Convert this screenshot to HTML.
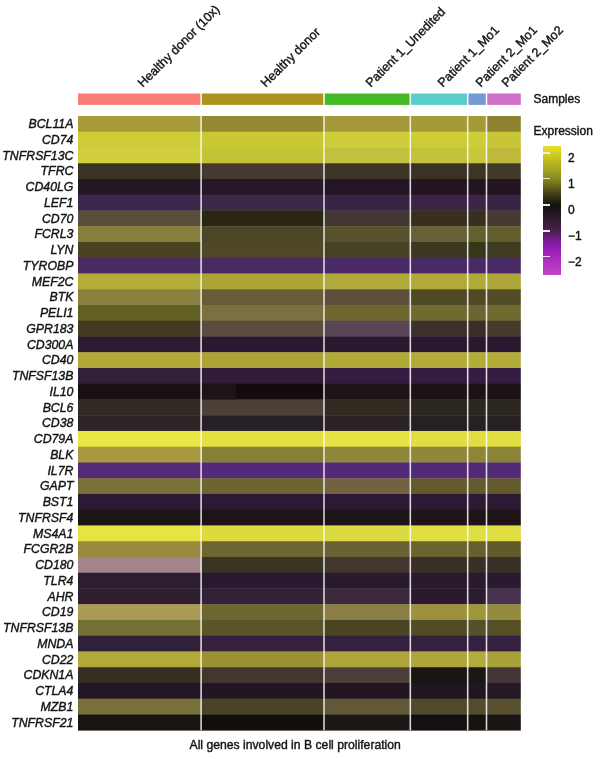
<!DOCTYPE html>
<html><head><meta charset="utf-8"><style>
html,body{margin:0;padding:0;background:#fff;}
body{width:600px;height:759px;position:relative;overflow:hidden;font-family:"Liberation Sans",Arial,sans-serif;color:#141414;-webkit-text-stroke:0.4px #141414;}
svg{position:absolute;left:0;top:0;}
.gl{position:absolute;right:526.6px;font-style:italic;font-size:12.3px;line-height:14px;height:14px;white-space:nowrap;text-align:right;}
.cl{position:absolute;top:77.7px;font-size:12.5px;line-height:14px;height:14px;white-space:nowrap;transform-origin:0 50%;transform:rotate(-45deg);}
.lt{position:absolute;font-size:12px;line-height:14px;white-space:nowrap;}
#cb{position:absolute;left:543.1px;top:145.6px;width:17.8px;height:129px;background:linear-gradient(to bottom,#e6e22a 0.0%,#d4d022 5.4%,#b0ae20 15.5%,#8a8820 25.4%,#4a4818 35.7%,#141210 45.7%,#2a1a2c 55.8%,#4a2050 65.9%,#8a18a8 76.0%,#a828c0 85.8%,#c048c0 100.0%);}
.tk{position:absolute;left:543.1px;width:7px;height:1.8px;background:#ececec;}
.tl{position:absolute;left:568px;font-size:12px;line-height:14px;}
</style></head><body>
<svg width="600" height="759" viewBox="0 0 600 759">
<rect x="78.00" y="116.00" width="123.10" height="16.15" fill="#a89c3a"/><rect x="201.10" y="116.00" width="122.90" height="16.15" fill="#948a34"/><rect x="324.00" y="116.00" width="86.30" height="16.15" fill="#a4983a"/><rect x="410.30" y="116.00" width="57.40" height="16.15" fill="#a49a36"/><rect x="467.70" y="116.00" width="18.80" height="16.15" fill="#a49a36"/><rect x="486.50" y="116.00" width="34.30" height="16.15" fill="#8c8230"/><rect x="78.00" y="131.75" width="123.10" height="16.15" fill="#cecc36"/><rect x="201.10" y="131.75" width="122.90" height="16.15" fill="#cac834"/><rect x="324.00" y="131.75" width="86.30" height="16.15" fill="#cecc38"/><rect x="410.30" y="131.75" width="57.40" height="16.15" fill="#cecc38"/><rect x="467.70" y="131.75" width="18.80" height="16.15" fill="#cecc38"/><rect x="486.50" y="131.75" width="34.30" height="16.15" fill="#c8c636"/><rect x="78.00" y="147.50" width="123.10" height="16.15" fill="#d0ce3e"/><rect x="201.10" y="147.50" width="122.90" height="16.15" fill="#c4c236"/><rect x="324.00" y="147.50" width="86.30" height="16.15" fill="#c2c03c"/><rect x="410.30" y="147.50" width="57.40" height="16.15" fill="#c4c23a"/><rect x="467.70" y="147.50" width="18.80" height="16.15" fill="#c8c63a"/><rect x="486.50" y="147.50" width="34.30" height="16.15" fill="#c0b83a"/><rect x="78.00" y="163.25" width="123.10" height="16.15" fill="#3a3222"/><rect x="201.10" y="163.25" width="122.90" height="16.15" fill="#463a30"/><rect x="324.00" y="163.25" width="86.30" height="16.15" fill="#3e3428"/><rect x="410.30" y="163.25" width="57.40" height="16.15" fill="#3a3224"/><rect x="467.70" y="163.25" width="18.80" height="16.15" fill="#3e3426"/><rect x="486.50" y="163.25" width="34.30" height="16.15" fill="#423a28"/><rect x="78.00" y="178.99" width="123.10" height="16.15" fill="#241824"/><rect x="201.10" y="178.99" width="122.90" height="16.15" fill="#261828"/><rect x="324.00" y="178.99" width="86.30" height="16.15" fill="#241624"/><rect x="410.30" y="178.99" width="57.40" height="16.15" fill="#221420"/><rect x="467.70" y="178.99" width="18.80" height="16.15" fill="#221420"/><rect x="486.50" y="178.99" width="34.30" height="16.15" fill="#221420"/><rect x="78.00" y="194.74" width="123.10" height="16.15" fill="#3c264c"/><rect x="201.10" y="194.74" width="122.90" height="16.15" fill="#3c2848"/><rect x="324.00" y="194.74" width="86.30" height="16.15" fill="#3a2446"/><rect x="410.30" y="194.74" width="57.40" height="16.15" fill="#3c2446"/><rect x="467.70" y="194.74" width="18.80" height="16.15" fill="#3e2446"/><rect x="486.50" y="194.74" width="34.30" height="16.15" fill="#3a2446"/><rect x="78.00" y="210.49" width="123.10" height="16.15" fill="#5a4e3c"/><rect x="201.10" y="210.49" width="122.90" height="16.15" fill="#2a2614"/><rect x="324.00" y="210.49" width="86.30" height="16.15" fill="#423634"/><rect x="410.30" y="210.49" width="57.40" height="16.15" fill="#38301f"/><rect x="467.70" y="210.49" width="18.80" height="16.15" fill="#38301f"/><rect x="486.50" y="210.49" width="34.30" height="16.15" fill="#463a32"/><rect x="78.00" y="226.24" width="123.10" height="16.15" fill="#867e3a"/><rect x="201.10" y="226.24" width="122.90" height="16.15" fill="#4c4628"/><rect x="324.00" y="226.24" width="86.30" height="16.15" fill="#58522c"/><rect x="410.30" y="226.24" width="57.40" height="16.15" fill="#666038"/><rect x="467.70" y="226.24" width="18.80" height="16.15" fill="#64602e"/><rect x="486.50" y="226.24" width="34.30" height="16.15" fill="#625e2e"/><rect x="78.00" y="241.99" width="123.10" height="16.15" fill="#484422"/><rect x="201.10" y="241.99" width="122.90" height="16.15" fill="#4e4826"/><rect x="324.00" y="241.99" width="86.30" height="16.15" fill="#464224"/><rect x="410.30" y="241.99" width="57.40" height="16.15" fill="#3a381e"/><rect x="467.70" y="241.99" width="18.80" height="16.15" fill="#383618"/><rect x="486.50" y="241.99" width="34.30" height="16.15" fill="#3e3c20"/><rect x="78.00" y="257.74" width="123.10" height="16.15" fill="#4a2a62"/><rect x="201.10" y="257.74" width="122.90" height="16.15" fill="#482a60"/><rect x="324.00" y="257.74" width="86.30" height="16.15" fill="#4a2a66"/><rect x="410.30" y="257.74" width="57.40" height="16.15" fill="#4a2a64"/><rect x="467.70" y="257.74" width="18.80" height="16.15" fill="#4a2a64"/><rect x="486.50" y="257.74" width="34.30" height="16.15" fill="#4a2a64"/><rect x="78.00" y="273.49" width="123.10" height="16.15" fill="#b4ac38"/><rect x="201.10" y="273.49" width="122.90" height="16.15" fill="#aca436"/><rect x="324.00" y="273.49" width="86.30" height="16.15" fill="#b2aa38"/><rect x="410.30" y="273.49" width="57.40" height="16.15" fill="#b2aa38"/><rect x="467.70" y="273.49" width="18.80" height="16.15" fill="#b2aa38"/><rect x="486.50" y="273.49" width="34.30" height="16.15" fill="#aea638"/><rect x="78.00" y="289.24" width="123.10" height="16.15" fill="#8c8040"/><rect x="201.10" y="289.24" width="122.90" height="16.15" fill="#685c36"/><rect x="324.00" y="289.24" width="86.30" height="16.15" fill="#5e503e"/><rect x="410.30" y="289.24" width="57.40" height="16.15" fill="#504a24"/><rect x="467.70" y="289.24" width="18.80" height="16.15" fill="#504a24"/><rect x="486.50" y="289.24" width="34.30" height="16.15" fill="#524c26"/><rect x="78.00" y="304.98" width="123.10" height="16.15" fill="#626024"/><rect x="201.10" y="304.98" width="122.90" height="16.15" fill="#7c7040"/><rect x="324.00" y="304.98" width="86.30" height="16.15" fill="#6e6830"/><rect x="410.30" y="304.98" width="57.40" height="16.15" fill="#6e6a30"/><rect x="467.70" y="304.98" width="18.80" height="16.15" fill="#6a6630"/><rect x="486.50" y="304.98" width="34.30" height="16.15" fill="#706a30"/><rect x="78.00" y="320.73" width="123.10" height="16.15" fill="#443a24"/><rect x="201.10" y="320.73" width="122.90" height="16.15" fill="#5c4c40"/><rect x="324.00" y="320.73" width="86.30" height="16.15" fill="#584656"/><rect x="410.30" y="320.73" width="57.40" height="16.15" fill="#3c302a"/><rect x="467.70" y="320.73" width="18.80" height="16.15" fill="#3a2e28"/><rect x="486.50" y="320.73" width="34.30" height="16.15" fill="#463a2c"/><rect x="78.00" y="336.48" width="123.10" height="16.15" fill="#2c1a32"/><rect x="201.10" y="336.48" width="122.90" height="16.15" fill="#2a1830"/><rect x="324.00" y="336.48" width="86.30" height="16.15" fill="#2a1830"/><rect x="410.30" y="336.48" width="57.40" height="16.15" fill="#2a1830"/><rect x="467.70" y="336.48" width="18.80" height="16.15" fill="#2a1830"/><rect x="486.50" y="336.48" width="34.30" height="16.15" fill="#2a1830"/><rect x="78.00" y="352.23" width="123.10" height="16.15" fill="#b2a838"/><rect x="201.10" y="352.23" width="122.90" height="16.15" fill="#aca236"/><rect x="324.00" y="352.23" width="86.30" height="16.15" fill="#b2aa38"/><rect x="410.30" y="352.23" width="57.40" height="16.15" fill="#b4ac38"/><rect x="467.70" y="352.23" width="18.80" height="16.15" fill="#b4ac38"/><rect x="486.50" y="352.23" width="34.30" height="16.15" fill="#b4ac38"/><rect x="78.00" y="367.98" width="123.10" height="16.15" fill="#32203a"/><rect x="201.10" y="367.98" width="122.90" height="16.15" fill="#301c38"/><rect x="324.00" y="367.98" width="86.30" height="16.15" fill="#341c40"/><rect x="410.30" y="367.98" width="57.40" height="16.15" fill="#341c40"/><rect x="467.70" y="367.98" width="18.80" height="16.15" fill="#341c40"/><rect x="486.50" y="367.98" width="34.30" height="16.15" fill="#341c40"/><rect x="78.00" y="383.73" width="123.10" height="16.15" fill="#181014"/><rect x="201.10" y="383.73" width="122.90" height="16.15" fill="#140c0c"/><rect x="324.00" y="383.73" width="86.30" height="16.15" fill="#1c1418"/><rect x="410.30" y="383.73" width="57.40" height="16.15" fill="#1a1214"/><rect x="467.70" y="383.73" width="18.80" height="16.15" fill="#1a1214"/><rect x="486.50" y="383.73" width="34.30" height="16.15" fill="#1a1214"/><rect x="78.00" y="399.48" width="123.10" height="16.15" fill="#322a22"/><rect x="201.10" y="399.48" width="122.90" height="16.15" fill="#4c4038"/><rect x="324.00" y="399.48" width="86.30" height="16.15" fill="#302a20"/><rect x="410.30" y="399.48" width="57.40" height="16.15" fill="#2c2620"/><rect x="467.70" y="399.48" width="18.80" height="16.15" fill="#2c2620"/><rect x="486.50" y="399.48" width="34.30" height="16.15" fill="#2c2620"/><rect x="78.00" y="415.23" width="123.10" height="16.15" fill="#2e2428"/><rect x="201.10" y="415.23" width="122.90" height="16.15" fill="#282028"/><rect x="324.00" y="415.23" width="86.30" height="16.15" fill="#2a2226"/><rect x="410.30" y="415.23" width="57.40" height="16.15" fill="#262022"/><rect x="467.70" y="415.23" width="18.80" height="16.15" fill="#262022"/><rect x="486.50" y="415.23" width="34.30" height="16.15" fill="#262022"/><rect x="78.00" y="430.97" width="123.10" height="16.15" fill="#e8e644"/><rect x="201.10" y="430.97" width="122.90" height="16.15" fill="#e2e042"/><rect x="324.00" y="430.97" width="86.30" height="16.15" fill="#e4e244"/><rect x="410.30" y="430.97" width="57.40" height="16.15" fill="#e0de42"/><rect x="467.70" y="430.97" width="18.80" height="16.15" fill="#e0de42"/><rect x="486.50" y="430.97" width="34.30" height="16.15" fill="#e0de42"/><rect x="78.00" y="446.72" width="123.10" height="16.15" fill="#a89a3c"/><rect x="201.10" y="446.72" width="122.90" height="16.15" fill="#868036"/><rect x="324.00" y="446.72" width="86.30" height="16.15" fill="#8e8638"/><rect x="410.30" y="446.72" width="57.40" height="16.15" fill="#908838"/><rect x="467.70" y="446.72" width="18.80" height="16.15" fill="#8e8636"/><rect x="486.50" y="446.72" width="34.30" height="16.15" fill="#8a8436"/><rect x="78.00" y="462.47" width="123.10" height="16.15" fill="#552a78"/><rect x="201.10" y="462.47" width="122.90" height="16.15" fill="#542a78"/><rect x="324.00" y="462.47" width="86.30" height="16.15" fill="#532a78"/><rect x="410.30" y="462.47" width="57.40" height="16.15" fill="#532a78"/><rect x="467.70" y="462.47" width="18.80" height="16.15" fill="#532a78"/><rect x="486.50" y="462.47" width="34.30" height="16.15" fill="#532a78"/><rect x="78.00" y="478.22" width="123.10" height="16.15" fill="#787036"/><rect x="201.10" y="478.22" width="122.90" height="16.15" fill="#6c6432"/><rect x="324.00" y="478.22" width="86.30" height="16.15" fill="#726240"/><rect x="410.30" y="478.22" width="57.40" height="16.15" fill="#625a2c"/><rect x="467.70" y="478.22" width="18.80" height="16.15" fill="#625a2c"/><rect x="486.50" y="478.22" width="34.30" height="16.15" fill="#625a2c"/><rect x="78.00" y="493.97" width="123.10" height="16.15" fill="#2c1a34"/><rect x="201.10" y="493.97" width="122.90" height="16.15" fill="#2c1a34"/><rect x="324.00" y="493.97" width="86.30" height="16.15" fill="#2c1a34"/><rect x="410.30" y="493.97" width="57.40" height="16.15" fill="#2c1a34"/><rect x="467.70" y="493.97" width="18.80" height="16.15" fill="#2c1a34"/><rect x="486.50" y="493.97" width="34.30" height="16.15" fill="#2c1a34"/><rect x="78.00" y="509.72" width="123.10" height="16.15" fill="#1c1416"/><rect x="201.10" y="509.72" width="122.90" height="16.15" fill="#1e1418"/><rect x="324.00" y="509.72" width="86.30" height="16.15" fill="#1c1418"/><rect x="410.30" y="509.72" width="57.40" height="16.15" fill="#1e1418"/><rect x="467.70" y="509.72" width="18.80" height="16.15" fill="#1e1418"/><rect x="486.50" y="509.72" width="34.30" height="16.15" fill="#1e1418"/><rect x="78.00" y="525.47" width="123.10" height="16.15" fill="#e6e442"/><rect x="201.10" y="525.47" width="122.90" height="16.15" fill="#dcda40"/><rect x="324.00" y="525.47" width="86.30" height="16.15" fill="#dcda40"/><rect x="410.30" y="525.47" width="57.40" height="16.15" fill="#e0de42"/><rect x="467.70" y="525.47" width="18.80" height="16.15" fill="#e0de42"/><rect x="486.50" y="525.47" width="34.30" height="16.15" fill="#e0de42"/><rect x="78.00" y="541.22" width="123.10" height="16.15" fill="#988a3e"/><rect x="201.10" y="541.22" width="122.90" height="16.15" fill="#6e6630"/><rect x="324.00" y="541.22" width="86.30" height="16.15" fill="#6a6234"/><rect x="410.30" y="541.22" width="57.40" height="16.15" fill="#6a642e"/><rect x="467.70" y="541.22" width="18.80" height="16.15" fill="#66602c"/><rect x="486.50" y="541.22" width="34.30" height="16.15" fill="#605a2a"/><rect x="78.00" y="556.96" width="123.10" height="16.15" fill="#a6848c"/><rect x="201.10" y="556.96" width="122.90" height="16.15" fill="#3a3422"/><rect x="324.00" y="556.96" width="86.30" height="16.15" fill="#42362f"/><rect x="410.30" y="556.96" width="57.40" height="16.15" fill="#382f26"/><rect x="467.70" y="556.96" width="18.80" height="16.15" fill="#382f26"/><rect x="486.50" y="556.96" width="34.30" height="16.15" fill="#382f26"/><rect x="78.00" y="572.71" width="123.10" height="16.15" fill="#2c1e30"/><rect x="201.10" y="572.71" width="122.90" height="16.15" fill="#2a1a30"/><rect x="324.00" y="572.71" width="86.30" height="16.15" fill="#2a1a30"/><rect x="410.30" y="572.71" width="57.40" height="16.15" fill="#2a1a30"/><rect x="467.70" y="572.71" width="18.80" height="16.15" fill="#2a1a30"/><rect x="486.50" y="572.71" width="34.30" height="16.15" fill="#2a1a30"/><rect x="78.00" y="588.46" width="123.10" height="16.15" fill="#2e1e30"/><rect x="201.10" y="588.46" width="122.90" height="16.15" fill="#322238"/><rect x="324.00" y="588.46" width="86.30" height="16.15" fill="#3a2a3c"/><rect x="410.30" y="588.46" width="57.40" height="16.15" fill="#2a1a2c"/><rect x="467.70" y="588.46" width="18.80" height="16.15" fill="#2a1c2e"/><rect x="486.50" y="588.46" width="34.30" height="16.15" fill="#483050"/><rect x="78.00" y="604.21" width="123.10" height="16.15" fill="#aa9a56"/><rect x="201.10" y="604.21" width="122.90" height="16.15" fill="#6e6630"/><rect x="324.00" y="604.21" width="86.30" height="16.15" fill="#8a7e44"/><rect x="410.30" y="604.21" width="57.40" height="16.15" fill="#9c923c"/><rect x="467.70" y="604.21" width="18.80" height="16.15" fill="#a09838"/><rect x="486.50" y="604.21" width="34.30" height="16.15" fill="#948a3e"/><rect x="78.00" y="619.96" width="123.10" height="16.15" fill="#747034"/><rect x="201.10" y="619.96" width="122.90" height="16.15" fill="#5a5429"/><rect x="324.00" y="619.96" width="86.30" height="16.15" fill="#4a4624"/><rect x="410.30" y="619.96" width="57.40" height="16.15" fill="#504c24"/><rect x="467.70" y="619.96" width="18.80" height="16.15" fill="#54502a"/><rect x="486.50" y="619.96" width="34.30" height="16.15" fill="#545026"/><rect x="78.00" y="635.71" width="123.10" height="16.15" fill="#302038"/><rect x="201.10" y="635.71" width="122.90" height="16.15" fill="#36203e"/><rect x="324.00" y="635.71" width="86.30" height="16.15" fill="#362040"/><rect x="410.30" y="635.71" width="57.40" height="16.15" fill="#362040"/><rect x="467.70" y="635.71" width="18.80" height="16.15" fill="#362040"/><rect x="486.50" y="635.71" width="34.30" height="16.15" fill="#362040"/><rect x="78.00" y="651.46" width="123.10" height="16.15" fill="#b2aa38"/><rect x="201.10" y="651.46" width="122.90" height="16.15" fill="#9a9034"/><rect x="324.00" y="651.46" width="86.30" height="16.15" fill="#aea63a"/><rect x="410.30" y="651.46" width="57.40" height="16.15" fill="#aea63a"/><rect x="467.70" y="651.46" width="18.80" height="16.15" fill="#b4ac3a"/><rect x="486.50" y="651.46" width="34.30" height="16.15" fill="#a8a038"/><rect x="78.00" y="667.21" width="123.10" height="16.15" fill="#362e1e"/><rect x="201.10" y="667.21" width="122.90" height="16.15" fill="#42362f"/><rect x="324.00" y="667.21" width="86.30" height="16.15" fill="#4e3e3a"/><rect x="410.30" y="667.21" width="57.40" height="16.15" fill="#1a1412"/><rect x="467.70" y="667.21" width="18.80" height="16.15" fill="#1c1614"/><rect x="486.50" y="667.21" width="34.30" height="16.15" fill="#443636"/><rect x="78.00" y="682.95" width="123.10" height="16.15" fill="#241826"/><rect x="201.10" y="682.95" width="122.90" height="16.15" fill="#221624"/><rect x="324.00" y="682.95" width="86.30" height="16.15" fill="#221624"/><rect x="410.30" y="682.95" width="57.40" height="16.15" fill="#201620"/><rect x="467.70" y="682.95" width="18.80" height="16.15" fill="#201620"/><rect x="486.50" y="682.95" width="34.30" height="16.15" fill="#241a26"/><rect x="78.00" y="698.70" width="123.10" height="16.15" fill="#787038"/><rect x="201.10" y="698.70" width="122.90" height="16.15" fill="#4a4424"/><rect x="324.00" y="698.70" width="86.30" height="16.15" fill="#625838"/><rect x="410.30" y="698.70" width="57.40" height="16.15" fill="#504a2a"/><rect x="467.70" y="698.70" width="18.80" height="16.15" fill="#524c2c"/><rect x="486.50" y="698.70" width="34.30" height="16.15" fill="#58502e"/><rect x="78.00" y="714.45" width="123.10" height="16.15" fill="#181410"/><rect x="201.10" y="714.45" width="122.90" height="16.15" fill="#120e0c"/><rect x="324.00" y="714.45" width="86.30" height="16.15" fill="#1c1614"/><rect x="410.30" y="714.45" width="57.40" height="16.15" fill="#141010"/><rect x="467.70" y="714.45" width="18.80" height="16.15" fill="#161210"/><rect x="486.50" y="714.45" width="34.30" height="16.15" fill="#1a1412"/><rect x="202.00" y="383.73" width="34.00" height="15.75" fill="#1e1418"/><rect x="200.30" y="116" width="1.6" height="614.2" fill="#ffffff" fill-opacity="0.8"/><rect x="323.20" y="116" width="1.6" height="614.2" fill="#ffffff" fill-opacity="0.8"/><rect x="409.50" y="116" width="1.6" height="614.2" fill="#ffffff" fill-opacity="0.8"/><rect x="466.90" y="116" width="1.6" height="614.2" fill="#ffffff" fill-opacity="0.8"/><rect x="485.70" y="116" width="1.6" height="614.2" fill="#ffffff" fill-opacity="0.8"/><rect x="78.00" y="93.5" width="122.35" height="11.4" fill="#fc7c76"/><rect x="201.85" y="93.5" width="121.40" height="11.4" fill="#aa941e"/><rect x="324.75" y="93.5" width="84.80" height="11.4" fill="#44ba24"/><rect x="411.05" y="93.5" width="55.90" height="11.4" fill="#5acccc"/><rect x="468.45" y="93.5" width="17.30" height="11.4" fill="#749ad4"/><rect x="487.25" y="93.5" width="33.55" height="11.4" fill="#d070c8"/>
</svg>
<div class="gl" style="top:117.17px">BCL11A</div><div class="gl" style="top:132.92px">CD74</div><div class="gl" style="top:148.67px">TNFRSF13C</div><div class="gl" style="top:164.42px">TFRC</div><div class="gl" style="top:180.17px">CD40LG</div><div class="gl" style="top:195.92px">LEF1</div><div class="gl" style="top:211.67px">CD70</div><div class="gl" style="top:227.42px">FCRL3</div><div class="gl" style="top:243.16px">LYN</div><div class="gl" style="top:258.91px">TYROBP</div><div class="gl" style="top:274.66px">MEF2C</div><div class="gl" style="top:290.41px">BTK</div><div class="gl" style="top:306.16px">PELI1</div><div class="gl" style="top:321.91px">GPR183</div><div class="gl" style="top:337.66px">CD300A</div><div class="gl" style="top:353.41px">CD40</div><div class="gl" style="top:369.15px">TNFSF13B</div><div class="gl" style="top:384.90px">IL10</div><div class="gl" style="top:400.65px">BCL6</div><div class="gl" style="top:416.40px">CD38</div><div class="gl" style="top:432.15px">CD79A</div><div class="gl" style="top:447.90px">BLK</div><div class="gl" style="top:463.65px">IL7R</div><div class="gl" style="top:479.39px">GAPT</div><div class="gl" style="top:495.14px">BST1</div><div class="gl" style="top:510.89px">TNFRSF4</div><div class="gl" style="top:526.64px">MS4A1</div><div class="gl" style="top:542.39px">FCGR2B</div><div class="gl" style="top:558.14px">CD180</div><div class="gl" style="top:573.89px">TLR4</div><div class="gl" style="top:589.64px">AHR</div><div class="gl" style="top:605.38px">CD19</div><div class="gl" style="top:621.13px">TNFRSF13B</div><div class="gl" style="top:636.88px">MNDA</div><div class="gl" style="top:652.63px">CD22</div><div class="gl" style="top:668.38px">CDKN1A</div><div class="gl" style="top:684.13px">CTLA4</div><div class="gl" style="top:699.88px">MZB1</div><div class="gl" style="top:715.63px">TNFRSF21</div>
<div class="cl" style="left:140.1px">Healthy donor (10x)</div><div class="cl" style="left:263.1px">Healthy donor</div><div class="cl" style="left:367.6px">Patient 1_Unedited</div><div class="cl" style="left:439.5px">Patient 1_Mo1</div><div class="cl" style="left:477.6px">Patient 2_Mo1</div><div class="cl" style="left:504.1px">Patient 2_Mo2</div>
<div class="lt" style="left:533.5px;top:91.6px">Samples</div>
<div class="lt" style="left:533.5px;top:124px">Expression</div>
<div id="cb"></div>
<div class="tk" style="top:151.9px"></div>
<div class="tk" style="top:177.7px"></div>
<div class="tk" style="top:204.0px"></div>
<div class="tk" style="top:229.8px"></div>
<div class="tk" style="top:255.6px"></div>
<div class="tl" style="top:151px">2</div>
<div class="tl" style="top:177px">1</div>
<div class="tl" style="top:203px">0</div>
<div class="tl" style="top:229px">&minus;1</div>
<div class="tl" style="top:255px">&minus;2</div>
<div class="lt" style="left:189.5px;top:738.3px;font-size:12.2px">All genes involved in B cell proliferation</div>
</body></html>
